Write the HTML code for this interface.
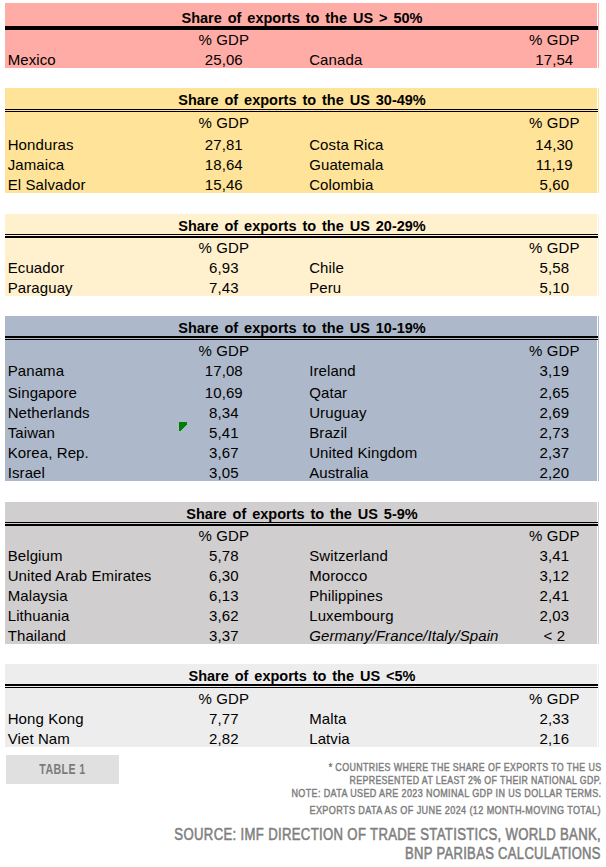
<!DOCTYPE html>
<html><head><meta charset="utf-8">
<style>
html,body{margin:0;padding:0;background:#fff;}
body{width:606px;height:867px;position:relative;overflow:hidden;font-family:"Liberation Sans",sans-serif;color:#000;}
.s{position:absolute;left:5px;width:592px;}
.e{position:absolute;left:598px;width:1px;}
.l{position:absolute;left:5px;width:593px;background:#000;}
.t{position:absolute;font-size:15px;line-height:20px;white-space:nowrap;letter-spacing:0.1px;}
.h{font-weight:bold;word-spacing:1.9px;font-size:14.5px;letter-spacing:0;}
.c{text-align:center;width:120px;}
.fn{position:absolute;white-space:nowrap;color:#7f7f7f;transform-origin:100% 50%;text-align:right;}
</style></head><body>
<div class="s" style="top:3px;height:65px;background:#FFABA6"></div>
<div class="e" style="top:3px;height:65px;background:#FFABA6"></div>
<div class="l" style="top:26px;height:4px"></div>
<div class="t h" style="left:102.00px;top:7.90px;width:400px;text-align:center;">Share of exports to the US &gt; 50%</div>
<div class="t c" style="left:163.80px;top:30.10px;">% GDP</div>
<div class="t c" style="left:494.30px;top:30.10px;">% GDP</div>
<div class="t" style="left:7.70px;top:50.10px;">Mexico</div>
<div class="t c" style="left:163.80px;top:50.10px;">25,06</div>
<div class="t" style="left:309.20px;top:50.10px;">Canada</div>
<div class="t c" style="left:494.30px;top:50.10px;">17,54</div>
<div class="s" style="top:88px;height:105px;background:#FEE398"></div>
<div class="e" style="top:88px;height:105px;background:#FEE398"></div>
<div class="l" style="top:109px;height:1px"></div>
<div class="l" style="top:111px;height:1px"></div>
<div class="t h" style="left:102.00px;top:90.00px;width:400px;text-align:center;">Share of exports to the US 30-49%</div>
<div class="t c" style="left:163.80px;top:113.10px;">% GDP</div>
<div class="t c" style="left:494.30px;top:113.10px;">% GDP</div>
<div class="t" style="left:7.70px;top:134.50px;">Honduras</div>
<div class="t c" style="left:163.80px;top:134.50px;">27,81</div>
<div class="t" style="left:309.20px;top:134.50px;">Costa Rica</div>
<div class="t c" style="left:494.30px;top:134.50px;">14,30</div>
<div class="t" style="left:7.70px;top:154.50px;">Jamaica</div>
<div class="t c" style="left:163.80px;top:154.50px;">18,64</div>
<div class="t" style="left:309.20px;top:154.50px;">Guatemala</div>
<div class="t c" style="left:494.30px;top:154.50px;">11,19</div>
<div class="t" style="left:7.70px;top:175.10px;">El Salvador</div>
<div class="t c" style="left:163.80px;top:175.10px;">15,46</div>
<div class="t" style="left:309.20px;top:175.10px;">Colombia</div>
<div class="t c" style="left:494.30px;top:175.10px;">5,60</div>
<div class="s" style="top:214px;height:82px;background:#FFF0CE"></div>
<div class="e" style="top:214px;height:82px;background:#FFF0CE"></div>
<div class="l" style="top:234px;height:1px"></div>
<div class="l" style="top:236px;height:2px"></div>
<div class="t h" style="left:102.00px;top:216.10px;width:400px;text-align:center;">Share of exports to the US 20-29%</div>
<div class="t c" style="left:163.80px;top:238.10px;">% GDP</div>
<div class="t c" style="left:494.30px;top:238.10px;">% GDP</div>
<div class="t" style="left:7.70px;top:258.10px;">Ecuador</div>
<div class="t c" style="left:163.80px;top:258.10px;">6,93</div>
<div class="t" style="left:309.20px;top:258.10px;">Chile</div>
<div class="t c" style="left:494.30px;top:258.10px;">5,58</div>
<div class="t" style="left:7.70px;top:278.30px;">Paraguay</div>
<div class="t c" style="left:163.80px;top:278.30px;">7,43</div>
<div class="t" style="left:309.20px;top:278.30px;">Peru</div>
<div class="t c" style="left:494.30px;top:278.30px;">5,10</div>
<div class="s" style="top:316px;height:165px;background:#ADB9CA"></div>
<div class="e" style="top:316px;height:165px;background:#ADB9CA"></div>
<div class="l" style="top:336px;height:2px"></div>
<div class="l" style="top:339px;height:1px"></div>
<div class="t h" style="left:102.00px;top:318.10px;width:400px;text-align:center;">Share of exports to the US 10-19%</div>
<div class="t c" style="left:163.80px;top:341.00px;">% GDP</div>
<div class="t c" style="left:494.30px;top:341.00px;">% GDP</div>
<div class="t" style="left:7.70px;top:361.10px;">Panama</div>
<div class="t c" style="left:163.80px;top:361.10px;">17,08</div>
<div class="t" style="left:309.20px;top:361.10px;">Ireland</div>
<div class="t c" style="left:494.30px;top:361.10px;">3,19</div>
<div class="t" style="left:7.70px;top:383.00px;">Singapore</div>
<div class="t c" style="left:163.80px;top:383.00px;">10,69</div>
<div class="t" style="left:309.20px;top:383.00px;">Qatar</div>
<div class="t c" style="left:494.30px;top:383.00px;">2,65</div>
<div class="t" style="left:7.70px;top:402.80px;">Netherlands</div>
<div class="t c" style="left:163.80px;top:402.80px;">8,34</div>
<div class="t" style="left:309.20px;top:402.80px;">Uruguay</div>
<div class="t c" style="left:494.30px;top:402.80px;">2,69</div>
<div class="t" style="left:7.70px;top:423.10px;">Taiwan</div>
<div class="t c" style="left:163.80px;top:423.10px;">5,41</div>
<div class="t" style="left:309.20px;top:423.10px;">Brazil</div>
<div class="t c" style="left:494.30px;top:423.10px;">2,73</div>
<div class="t" style="left:7.70px;top:442.60px;">Korea, Rep.</div>
<div class="t c" style="left:163.80px;top:442.60px;">3,67</div>
<div class="t" style="left:309.20px;top:442.60px;">United Kingdom</div>
<div class="t c" style="left:494.30px;top:442.60px;">2,37</div>
<div class="t" style="left:7.70px;top:463.10px;">Israel</div>
<div class="t c" style="left:163.80px;top:463.10px;">3,05</div>
<div class="t" style="left:309.20px;top:463.10px;">Australia</div>
<div class="t c" style="left:494.30px;top:463.10px;">2,20</div>
<div class="s" style="top:502px;height:142px;background:#D0CECE"></div>
<div class="e" style="top:502px;height:142px;background:#D0CECE"></div>
<div class="l" style="top:522px;height:1px"></div>
<div class="l" style="top:524px;height:2px"></div>
<div class="t h" style="left:102.00px;top:504.10px;width:400px;text-align:center;">Share of exports to the US 5-9%</div>
<div class="t c" style="left:163.80px;top:526.10px;">% GDP</div>
<div class="t c" style="left:494.30px;top:526.10px;">% GDP</div>
<div class="t" style="left:7.70px;top:546.10px;">Belgium</div>
<div class="t c" style="left:163.80px;top:546.10px;">5,78</div>
<div class="t" style="left:309.20px;top:546.10px;">Switzerland</div>
<div class="t c" style="left:494.30px;top:546.10px;">3,41</div>
<div class="t" style="left:7.70px;top:566.40px;">United Arab Emirates</div>
<div class="t c" style="left:163.80px;top:566.40px;">6,30</div>
<div class="t" style="left:309.20px;top:566.40px;">Morocco</div>
<div class="t c" style="left:494.30px;top:566.40px;">3,12</div>
<div class="t" style="left:7.70px;top:586.20px;">Malaysia</div>
<div class="t c" style="left:163.80px;top:586.20px;">6,13</div>
<div class="t" style="left:309.20px;top:586.20px;">Philippines</div>
<div class="t c" style="left:494.30px;top:586.20px;">2,41</div>
<div class="t" style="left:7.70px;top:606.10px;">Lithuania</div>
<div class="t c" style="left:163.80px;top:606.10px;">3,62</div>
<div class="t" style="left:309.20px;top:606.10px;">Luxembourg</div>
<div class="t c" style="left:494.30px;top:606.10px;">2,03</div>
<div class="t" style="left:7.70px;top:626.40px;">Thailand</div>
<div class="t c" style="left:163.80px;top:626.40px;">3,37</div>
<div class="t" style="left:309.20px;top:626.40px;"><i>Germany/France/Italy/Spain</i></div>
<div class="t c" style="left:494.30px;top:626.40px;">&lt; 2</div>
<div class="s" style="top:664px;height:83px;background:#EDEDED"></div>
<div class="e" style="top:664px;height:83px;background:#EDEDED"></div>
<div class="l" style="top:684px;height:2px"></div>
<div class="l" style="top:687px;height:1px"></div>
<div class="t h" style="left:102.00px;top:666.10px;width:400px;text-align:center;">Share of exports to the US &lt;5%</div>
<div class="t c" style="left:163.80px;top:689.00px;">% GDP</div>
<div class="t c" style="left:494.30px;top:689.00px;">% GDP</div>
<div class="t" style="left:7.70px;top:709.20px;">Hong Kong</div>
<div class="t c" style="left:163.80px;top:709.20px;">7,77</div>
<div class="t" style="left:309.20px;top:709.20px;">Malta</div>
<div class="t c" style="left:494.30px;top:709.20px;">2,33</div>
<div class="t" style="left:7.70px;top:729.00px;">Viet Nam</div>
<div class="t c" style="left:163.80px;top:729.00px;">2,82</div>
<div class="t" style="left:309.20px;top:729.00px;">Latvia</div>
<div class="t c" style="left:494.30px;top:729.00px;">2,16</div>
<svg style="position:absolute;left:179px;top:422px" width="8" height="9" shape-rendering="crispEdges"><path d="M0 0H8V3H7V4H6V5H5V6H4V7H3V8H2V9H0Z" fill="#008000"/></svg>
<div style="position:absolute;left:6px;top:755px;width:113px;height:29px;background:#E0E0E0"></div>
<div class="fn" style="left:0;width:125px;text-align:center;top:762px;font-size:15px;line-height:13px;letter-spacing:0.6px;transform:scaleX(0.707);transform-origin:50% 50%;color:#7a7a7a;font-weight:bold;-webkit-text-stroke:0">TABLE 1</div>
<div class="fn" style="right:4.63px;top:762.14px;font-size:10.7px;line-height:10.7px;transform:scaleX(0.8278);font-weight:normal;-webkit-text-stroke:0.45px #7f7f7f;letter-spacing:0.45px">* COUNTRIES WHERE THE SHARE OF EXPORTS TO THE US</div>
<div class="fn" style="right:4.63px;top:775.04px;font-size:10.7px;line-height:10.7px;transform:scaleX(0.8223);font-weight:normal;-webkit-text-stroke:0.45px #7f7f7f;letter-spacing:0.45px">REPRESENTED AT LEAST 2% OF THEIR NATIONAL GDP.</div>
<div class="fn" style="right:4.62px;top:788.14px;font-size:10.7px;line-height:10.7px;transform:scaleX(0.8414);font-weight:normal;-webkit-text-stroke:0.45px #7f7f7f;letter-spacing:0.45px">NOTE: DATA USED ARE 2023 NOMINAL GDP IN US DOLLAR TERMS.</div>
<div class="fn" style="right:4.62px;top:804.74px;font-size:10.7px;line-height:10.7px;transform:scaleX(0.8500);font-weight:normal;-webkit-text-stroke:0.45px #7f7f7f;letter-spacing:0.45px">EXPORTS DATA AS OF JUNE 2024 (12 MONTH-MOVING TOTAL)</div>
<div class="fn" style="right:4.67px;top:826.83px;font-size:15.8px;line-height:15.8px;transform:scaleX(0.8317);font-weight:normal;-webkit-text-stroke:0.55px #7f7f7f;letter-spacing:0.4px">SOURCE: IMF DIRECTION OF TRADE STATISTICS, WORLD BANK,</div>
<div class="fn" style="right:4.67px;top:845.83px;font-size:15.8px;line-height:15.8px;transform:scaleX(0.8236);font-weight:normal;-webkit-text-stroke:0.55px #7f7f7f;letter-spacing:0.4px">BNP PARIBAS CALCULATIONS</div>
</body></html>
